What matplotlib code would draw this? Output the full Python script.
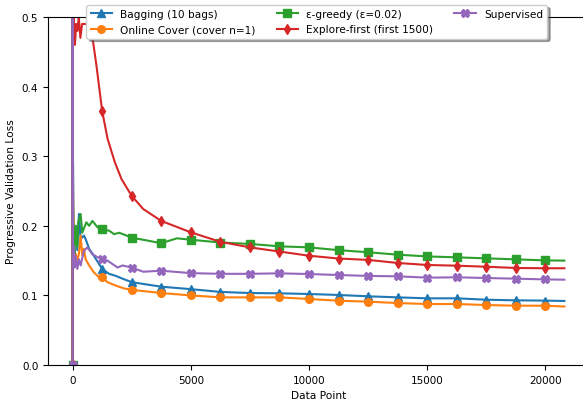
import matplotlib
matplotlib.use("Agg")
import matplotlib.pyplot as plt

labels = ["Bagging (10 bags)", "Online Cover (cover n=1)", "ε-greedy (ε=0.02)",
          "Explore-first (first 1500)", "Supervised"]
markers = ["^", "o", "s", "d", "X"]

bag_x = [0, 1, 2, 5, 10, 20, 40, 80, 130, 200, 270, 340, 480, 550, 700, 900, 1120, 1250,
         1545, 1830, 2115, 2500, 3750, 5000, 6250, 7500, 8750, 10000, 11250, 12500, 13750,
         15000, 16250, 17500, 18750, 20000, 20800]
bag_y = [0.0, 1.0, 0.5, 0.4, 0.3, 0.29, 0.2, 0.18, 0.2, 0.165, 0.217, 0.181, 0.186, 0.181,
         0.167, 0.157, 0.145, 0.138, 0.131, 0.128, 0.124, 0.119, 0.1125, 0.109, 0.105, 0.1034,
         0.103, 0.102, 0.1006, 0.0987, 0.0972, 0.0958, 0.0958, 0.0938, 0.0929, 0.0925, 0.092]

cov_x = [0, 1, 2, 5, 10, 20, 40, 80, 130, 200, 270, 340, 410, 480, 550, 700, 900, 1120, 1250,
         1475, 1830, 2180, 2500, 3750, 5000, 6250, 7500, 8750, 10000, 11250, 12500, 13750,
         15000, 16250, 17500, 18750, 20000, 20800]
cov_y = [0.0, 1.0, 0.5, 0.4, 0.3, 0.25, 0.2, 0.15, 0.16, 0.15, 0.16, 0.186, 0.157, 0.167,
         0.152, 0.143, 0.133, 0.126, 0.126, 0.119, 0.114, 0.110, 0.108, 0.1034, 0.100, 0.0972,
         0.0972, 0.0972, 0.0948, 0.0924, 0.091, 0.089, 0.0876, 0.0876, 0.0862, 0.0852, 0.0852,
         0.084]

eps_x = [0, 1, 2, 5, 10, 20, 40, 80, 130, 200, 240, 340, 410, 580, 700, 840, 1050, 1250,
         1545, 1760, 1970, 2280, 2500, 3130, 3750, 4410, 5000, 6250, 7500, 8750, 10000, 11250,
         12500, 13750, 15000, 16250, 17500, 18750, 20000, 20800]
eps_y = [0.0, 1.0, 0.5, 0.35, 0.25, 0.22, 0.18, 0.16, 0.2, 0.17, 0.205, 0.217, 0.19, 0.205,
         0.2, 0.207, 0.198, 0.195, 0.193, 0.188, 0.19, 0.186, 0.183, 0.179, 0.175, 0.182,
         0.180, 0.176, 0.174, 0.1705, 0.169, 0.165, 0.162, 0.1585, 0.156, 0.1547, 0.1532,
         0.1518, 0.1503, 0.150]

exp_x = [0, 1, 3, 8, 20, 50, 100, 150, 200, 260, 330, 400, 600, 860, 1010, 1250, 1480, 1790,
         2070, 2500, 2990, 3750, 5000, 6250, 7500, 8750, 10000, 11250, 12500, 13750, 15000,
         16250, 17500, 18750, 20000, 20800]
exp_y = [0.0, 1.0, 0.6, 0.5, 0.47, 0.5, 0.46, 0.49, 0.48, 0.5, 0.47, 0.49, 0.49, 0.466,
         0.43, 0.365, 0.325, 0.291, 0.267, 0.243, 0.224, 0.207, 0.1906, 0.177, 0.169, 0.163,
         0.157, 0.153, 0.151, 0.1466, 0.1437, 0.1427, 0.1412, 0.1394, 0.139, 0.139]

sup_x = [0, 1, 2, 4, 10, 20, 50, 80, 130, 200, 270, 340, 480, 625, 840, 1050, 1250, 1475,
         1690, 1900, 2115, 2500, 2990, 3750, 5000, 6250, 7500, 8750, 10000, 11250, 12500,
         13750, 15000, 16250, 17500, 18750, 20000, 20800]
sup_y = [0.0, 1.0, 0.5, 0.35, 0.2, 0.15, 0.17, 0.14, 0.157, 0.138, 0.152, 0.143, 0.164,
         0.169, 0.159, 0.155, 0.152, 0.15, 0.145, 0.14, 0.143, 0.140, 0.134, 0.1355, 0.132,
         0.131, 0.131, 0.1317, 0.1307, 0.1293, 0.128, 0.1274, 0.1255, 0.126, 0.125, 0.124,
         0.123, 0.1226]

series = [(bag_x, bag_y), (cov_x, cov_y), (eps_x, eps_y), (exp_x, exp_y), (sup_x, sup_y)]
marker_step = 1250

fig = plt.figure(figsize=(5.83, 4.02), dpi=100)
ax = fig.add_axes([48 / 583, 36 / 402, 541 / 583, 348 / 402])

for (xs, ys), lab, mk in zip(series, labels, markers):
    idx = [i for i, v in enumerate(xs) if v % marker_step == 0]
    ax.plot(xs, ys, marker=mk, markevery=idx, markersize=5.5, linewidth=1.5, label=lab)

ax.set_ylim(0, 0.5)
ax.set_xlim(-1040, 21840)
ax.set_xticks([0, 5000, 10000, 15000, 20000])
ax.set_yticks([0.0, 0.1, 0.2, 0.3, 0.4, 0.5])
ax.tick_params(labelsize=7.5)
ax.set_xlabel("Data Point", fontsize=7.7)
ax.set_ylabel("Progressive Validation Loss", fontsize=7.7)

leg = ax.legend(ncol=3, loc="upper center", bbox_to_anchor=(0.497, 1.05), fontsize=7.6,
                shadow=True, fancybox=True, framealpha=1)

fig.savefig("out.png", dpi=100)
